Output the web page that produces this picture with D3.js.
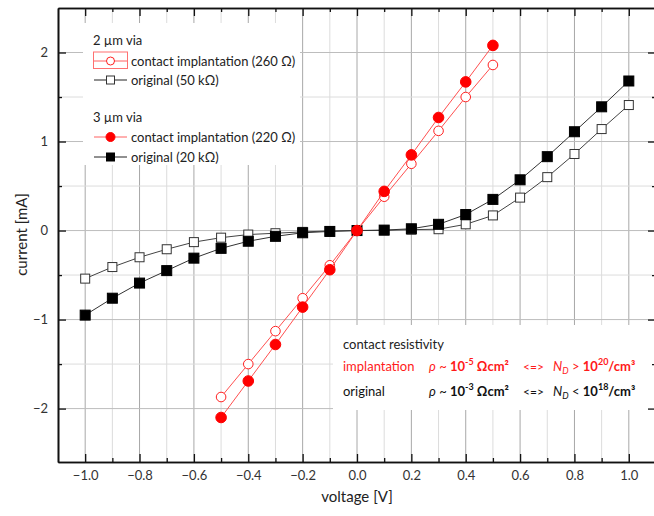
<!DOCTYPE html>
<html>
<head>
<meta charset="utf-8">
<script src="https://cdn.jsdelivr.net/npm/d3@7"></script>
<style>
  body { margin: 0; background: #fff; }
  svg { font-family: Lato, "Open Sans", sans-serif; }
</style>
</head>
<body>
<div id="chart"></div>
<script>
// voltage points
const vShort = [-0.5, -0.4, -0.3, -0.2, -0.1, 0.0, 0.1, 0.2, 0.3, 0.4, 0.5];
const vLong = [-1.0, -0.9, -0.8, -0.7, -0.6, -0.5, -0.4, -0.3, -0.2, -0.1, 0.0, 0.1, 0.2, 0.3, 0.4, 0.5, 0.6, 0.7, 0.8, 0.9, 1.0];

// currents in mA
const impl2um = [-1.87, -1.50, -1.13, -0.76, -0.39, 0, 0.38, 0.75, 1.12, 1.50, 1.86];
const impl3um = [-2.10, -1.69, -1.28, -0.86, -0.44, 0, 0.44, 0.85, 1.27, 1.67, 2.08];
const orig2um = [-0.54, -0.41, -0.30, -0.21, -0.13, -0.08, -0.045, -0.03, -0.015, -0.005, 0, 0.002, 0.01, 0.015, 0.07, 0.17, 0.37, 0.60, 0.86, 1.14, 1.41];
const orig3um = [-0.95, -0.76, -0.59, -0.45, -0.31, -0.20, -0.12, -0.065, -0.025, -0.01, 0, 0.005, 0.02, 0.07, 0.18, 0.35, 0.57, 0.83, 1.11, 1.39, 1.68];

const xMajor = [-1.0, -0.8, -0.6, -0.4, -0.2, 0.0, 0.2, 0.4, 0.6, 0.8, 1.0];
const xMinor = [-0.9, -0.7, -0.5, -0.3, -0.1, 0.1, 0.3, 0.5, 0.7, 0.9];
const yMajor = [-2, -1, 0, 1, 2];
const yMinor = [-1.5, -0.5, 0.5, 1.5];

const width = 654, height = 516;
const plot = {left: 58, right: 656, top: 8, bottom: 462};

const x = d3.scaleLinear().domain([-1.1, 1.1]).range([plot.left, plot.right]);
const y = d3.scaleLinear().domain([-2.6, 2.5]).range([plot.bottom, plot.top]);

const svg = d3.select('#chart').append('svg')
    .attr('width', width)
    .attr('height', height);

// grid
const grid = svg.append('g');
grid.selectAll('.vmin').data(xMinor).enter().append('line')
    .attr('x1', d => x(d)).attr('x2', d => x(d))
    .attr('y1', plot.top).attr('y2', plot.bottom)
    .attr('stroke', '#dcdcdc').attr('stroke-width', 1);
grid.selectAll('.vmaj').data(xMajor).enter().append('line')
    .attr('x1', d => x(d)).attr('x2', d => x(d))
    .attr('y1', plot.top).attr('y2', plot.bottom)
    .attr('stroke', '#a8a8a8').attr('stroke-width', 1);
grid.selectAll('.hmin').data(yMinor).enter().append('line')
    .attr('x1', plot.left).attr('x2', plot.right)
    .attr('y1', d => y(d)).attr('y2', d => y(d))
    .attr('stroke', '#dcdcdc').attr('stroke-width', 1);
grid.selectAll('.hmaj').data(yMajor).enter().append('line')
    .attr('x1', plot.left).attr('x2', plot.right)
    .attr('y1', d => y(d)).attr('y2', d => y(d))
    .attr('stroke', '#bdbdbd').attr('stroke-width', 1);

// white boxes behind legend and note
svg.append('rect').attr('x', 83).attr('y', 23).attr('width', 217).attr('height', 142).attr('fill', '#fff');
svg.append('rect').attr('x', 333).attr('y', 325).attr('width', 330).attr('height', 85).attr('fill', '#fff');

// axes (ticks pointing inwards)
const axB = d3.axisBottom(x).tickValues(xMajor).tickSizeInner(-8).tickSizeOuter(0).tickFormat(d3.format('.1f'));
const axT = d3.axisTop(x).tickValues(xMajor).tickSizeInner(-8).tickSizeOuter(0).tickFormat('');
const axL = d3.axisLeft(y).tickValues(yMajor).tickSizeInner(-8).tickSizeOuter(0).tickFormat(d3.format('d'));
const axR = d3.axisRight(y).tickValues(yMajor).tickSizeInner(-8).tickSizeOuter(0).tickFormat('');

function minor(ax, vals) { return ax.tickValues(vals).tickSizeInner(-4).tickSizeOuter(0).tickFormat(''); }

const gB = svg.append('g').attr('transform', `translate(0,${plot.bottom})`).call(axB);
svg.append('g').attr('transform', `translate(0,${plot.bottom})`).call(minor(d3.axisBottom(x), xMinor));
svg.append('g').attr('transform', `translate(0,${plot.top})`).call(axT);
svg.append('g').attr('transform', `translate(0,${plot.top})`).call(minor(d3.axisTop(x), xMinor));
const gL = svg.append('g').attr('transform', `translate(${plot.left},0)`).call(axL);
svg.append('g').attr('transform', `translate(${plot.left},0)`).call(minor(d3.axisLeft(y), yMinor));
svg.append('g').attr('transform', `translate(${plot.right},0)`).call(axR);
svg.append('g').attr('transform', `translate(${plot.right},0)`).call(minor(d3.axisRight(y), yMinor));

svg.selectAll('.domain').attr('stroke', '#111').attr('stroke-width', 1.6);
svg.selectAll('.tick line').attr('stroke', '#111').attr('stroke-width', 1.3);

gB.selectAll('.tick text')
    .attr('y', 0).attr('dy', 0)
    .attr('transform', 'translate(0,18)')
    .attr('font-size', 13).attr('fill', '#333').attr('font-family', 'Lato, sans-serif');
gL.selectAll('.tick text')
    .attr('x', -10)
    .attr('font-size', 13).attr('fill', '#333').attr('font-family', 'Lato, sans-serif');

// axis titles
svg.append('text')
    .attr('x', x(0)).attr('y', 502)
    .attr('text-anchor', 'middle')
    .attr('font-size', 15).attr('fill', '#222')
    .text('voltage [V]');
svg.append('text')
    .attr('transform', `translate(27,${y(0.0) + 4}) rotate(-90)`)
    .attr('text-anchor', 'middle')
    .attr('font-size', 15).attr('fill', '#222')
    .text('current [mA]');

// series
const line = d3.line().x(d => x(d[0])).y(d => y(d[1]));

function drawSeries(vs, is, color, lineColor, shape, filled) {
    const pts = vs.map((v, i) => [v, is[i]]);
    svg.append('path')
        .datum(pts)
        .attr('d', line)
        .attr('fill', 'none')
        .attr('stroke', lineColor)
        .attr('stroke-width', 1);
    const g = svg.append('g');
    if (shape === 'circle') {
        g.selectAll('circle').data(pts).enter().append('circle')
            .attr('cx', d => x(d[0])).attr('cy', d => y(d[1]))
            .attr('r', filled ? 5.3 : 4.8)
            .attr('fill', filled ? color : '#fff')
            .attr('stroke', color).attr('stroke-width', 1);
    } else {
        const s = filled ? 10 : 9;
        g.selectAll('rect').data(pts).enter().append('rect')
            .attr('x', d => x(d[0]) - s / 2).attr('y', d => y(d[1]) - s / 2)
            .attr('width', s).attr('height', s)
            .attr('fill', filled ? color : '#fff')
            .attr('stroke', color).attr('stroke-width', 1);
    }
}

drawSeries(vLong, orig2um, '#333', '#444', 'square', false);
drawSeries(vLong, orig3um, '#000', '#333', 'square', true);
drawSeries(vShort, impl2um, '#ff2020', '#ff5050', 'circle', false);
drawSeries(vShort, impl3um, '#ff0000', '#ff5050', 'circle', true);

// legend
const leg = svg.append('g').attr('font-size', 13).attr('fill', '#222');
const legRows = [
    {label: '2 \u00b5m via', y: 45, head: true},
    {label: 'contact implantation (260 \u03a9)', y: 61, color: '#ff2020', lc: '#ff6060', shape: 'circle', filled: false},
    {label: 'original (50 k\u03a9)', y: 80, color: '#333', lc: '#222', shape: 'square', filled: false},
    {label: '3 \u00b5m via', y: 122, head: true},
    {label: 'contact implantation (220 \u03a9)', y: 137, color: '#ff0000', lc: '#ff6060', shape: 'circle', filled: true},
    {label: 'original (20 k\u03a9)', y: 157, color: '#000', lc: '#222', shape: 'square', filled: true}
];
legRows.forEach(r => {
    if (r.head) {
        leg.append('text').attr('x', 93).attr('y', r.y).text(r.label);
        return;
    }
    leg.append('line').attr('x1', 94).attr('x2', 127).attr('y1', r.y).attr('y2', r.y)
        .attr('stroke', r.lc).attr('stroke-width', 1);
    if (r.shape === 'circle') {
        leg.append('circle').attr('cx', 110.5).attr('cy', r.y).attr('r', r.filled ? 4.5 : 4)
            .attr('fill', r.filled ? r.color : '#fff').attr('stroke', r.color);
    } else {
        leg.append('rect').attr('x', 106.5).attr('y', r.y - 4).attr('width', 8).attr('height', 8)
            .attr('fill', r.filled ? r.color : '#fff').attr('stroke', r.color);
    }
    leg.append('text').attr('x', 131).attr('y', r.y + 4.5).text(r.label);
});
// selection outline around the first symbol
leg.append('rect').attr('x', 93.5).attr('y', 52).attr('width', 34).attr('height', 16.5)
    .attr('fill', 'none').attr('stroke', '#ff7070').attr('stroke-width', 1);

// contact resistivity note
const note = svg.append('g').attr('font-size', 13);
note.append('text').attr('x', 343).attr('y', 349).attr('fill', '#222').text('contact resistivity');

const noteRows = [
    {name: 'implantation', y: 371, color: '#ff1a1a', exp: '-5', rel: '>', nd: '20'},
    {name: 'original', y: 396, color: '#111', exp: '-3', rel: '<', nd: '18'}
];
noteRows.forEach(r => {
    note.append('text').attr('x', 343).attr('y', r.y).attr('fill', r.color).text(r.name);
    const t1 = note.append('text').attr('x', 429).attr('y', r.y).attr('fill', r.color);
    t1.append('tspan').attr('font-style', 'italic').text('\u03c1');
    t1.append('tspan').text(' ~ ');
    t1.append('tspan').attr('font-weight', 'bold').text('10');
    t1.append('tspan').attr('font-weight', 'bold').attr('font-size', 9).attr('dy', -6).text(r.exp);
    t1.append('tspan').attr('font-weight', 'bold').attr('dy', 6).text(' \u03a9cm\u00b2');
    note.append('text').attr('x', 523).attr('y', r.y).attr('fill', r.color).attr('font-size', 12).text('<=>');
    const t2 = note.append('text').attr('x', 553).attr('y', r.y).attr('fill', r.color);
    t2.append('tspan').attr('font-style', 'italic').text('N');
    t2.append('tspan').attr('font-style', 'italic').attr('font-size', 9).attr('dy', 3).text('D');
    t2.append('tspan').attr('dy', -3).text(' ' + r.rel + ' ');
    t2.append('tspan').attr('font-weight', 'bold').text('10');
    t2.append('tspan').attr('font-weight', 'bold').attr('font-size', 9).attr('dy', -6).text(r.nd);
    t2.append('tspan').attr('font-weight', 'bold').attr('dy', 6).text('/cm\u00b3');
});
</script>
</body>
</html>
